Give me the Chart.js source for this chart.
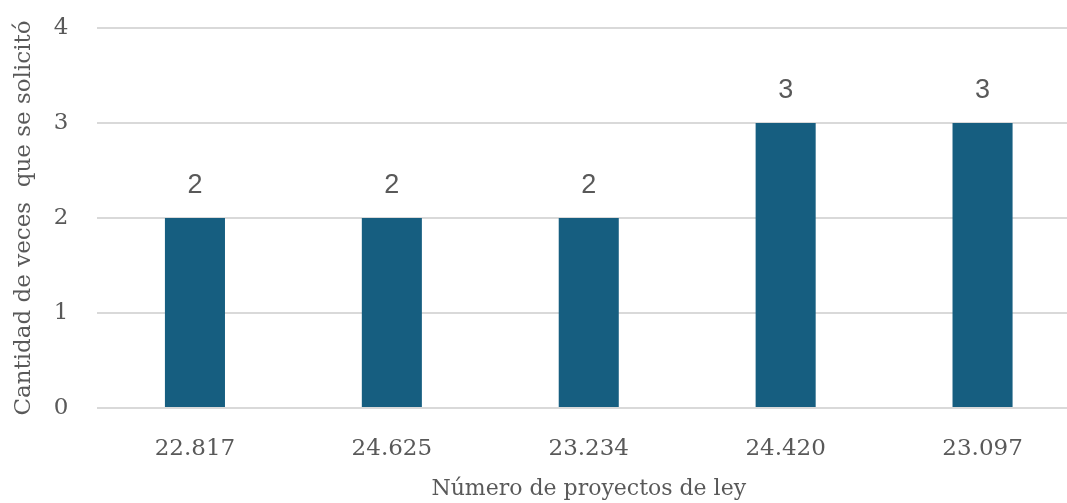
<!DOCTYPE html>
<html lang="es">
<head>
<meta charset="UTF-8">
<title>Proyectos de ley</title>
<style>
  html, body { margin: 0; padding: 0; background: #fff; overflow: hidden; }
  #wrap { width: 1081px; height: 503px; }
</style>
</head>
<body>
<div id="wrap">
  <canvas id="myChart" width="1081" height="503"></canvas>
</div>

<script src="https://cdn.jsdelivr.net/npm/chart.js"></script>
<script>
  // datos
  const proyectos = ["22.817", "24.625", "23.234", "24.420", "23.097"];
  const solicitudes = [2, 2, 2, 3, 3];
  const yTicks = [0, 1, 2, 3, 4];

  const textColor = "#595959";
  const serif = "'DejaVu Serif', 'Liberation Serif', serif";

  // etiquetas de valor encima de cada barra
  const valueLabels = {
    id: "valueLabels",
    afterDatasetsDraw(chart) {
      const ctx = chart.ctx;
      const meta = chart.getDatasetMeta(0);
      ctx.save();
      ctx.font = "27px 'Liberation Sans', Arial, sans-serif";
      ctx.fillStyle = textColor;
      ctx.textAlign = "center";
      ctx.textBaseline = "alphabetic";
      meta.data.forEach((bar, i) => {
        ctx.fillText(String(solicitudes[i]), bar.x, bar.y - 25);
      });
      ctx.restore();
    }
  };

  const ctx = document.getElementById("myChart");

  new Chart(ctx, {
    type: "bar",
    data: {
      labels: proyectos,
      datasets: [{
        data: solicitudes,
        backgroundColor: "#165e80",
        borderWidth: 0,
        barPercentage: 0.305,
        categoryPercentage: 1
      }]
    },
    options: {
      responsive: false,
      animation: false,
      layout: { padding: { top: 28, left: 10, right: 0, bottom: 0 } },
      plugins: {
        legend: { display: false },
        tooltip: { enabled: false }
      },
      scales: {
        x: {
          grid: { display: false, drawTicks: false },
          border: { display: false },
          ticks: {
            color: textColor,
            font: { family: serif, size: 23 },
            padding: 27
          },
          title: {
            display: true,
            text: "Número de proyectos de ley",
            color: textColor,
            font: { family: serif, size: 22 },
            padding: { top: 0, bottom: 1 }
          },
          afterFit(scale) { scale.height = 95; }
        },
        y: {
          min: 0,
          max: 4,
          afterBuildTicks(scale) {
            scale.ticks = yTicks.map(v => ({ value: v }));
          },
          grid: { color: "#d9d9d9", lineWidth: 2, drawTicks: false },
          border: { display: false },
          ticks: {
            color: textColor,
            font: { family: serif, size: 23 },
            padding: 28
          },
          title: {
            display: true,
            text: "Cantidad de veces  que se solicitó",
            color: textColor,
            font: { family: serif, size: 23 },
            padding: { top: 0, bottom: 0 }
          },
          afterFit(scale) {
            scale.width = 86.5;
            // el padding de los ticks no debe empujar el area hacia abajo
            scale.paddingTop = 0;
            scale.paddingBottom = 0;
          }
        }
      }
    },
    plugins: [valueLabels]
  });
</script>
</body>
</html>
